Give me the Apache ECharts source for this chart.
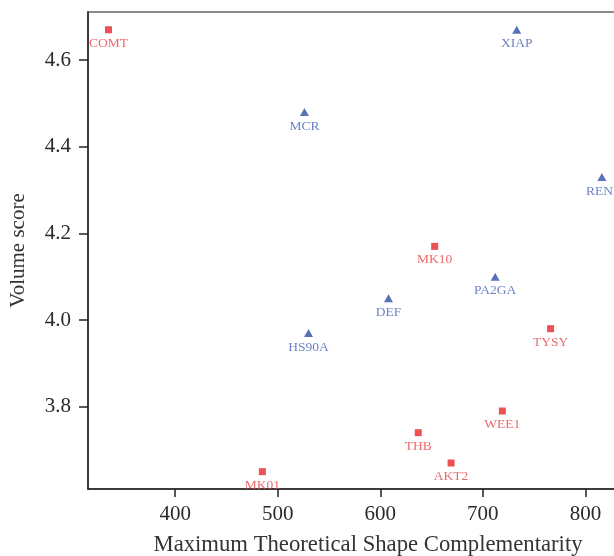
<!DOCTYPE html>
<html><head><meta charset="utf-8">
<script src="https://cdn.jsdelivr.net/npm/echarts@6/dist/echarts.min.js"></script>
<style>html,body{margin:0;padding:0;background:#fff}#c{width:614px;height:556px}</style>
</head><body><div id="c"></div>
<script>
const redNames = ['COMT','MK10','TYSY','WEE1','THB','AKT2','MK01'];
const redX = [335, 653, 766, 719, 637, 669, 485];
const redY = [4.67, 4.17, 3.98, 3.79, 3.74, 3.67, 3.65];
const blueNames = ['XIAP','MCR','RENI','PA2GA','DEF','HS90A'];
const blueX = [733, 526, 816, 712, 608, 530];
const blueY = [4.67, 4.48, 4.33, 4.10, 4.05, 3.97];
const xTicks = [400, 500, 600, 700, 800];
const yTicks = [3.8, 4.0, 4.2, 4.4, 4.6];

const font = 'Liberation Serif';
const chart = echarts.init(document.getElementById('c'), null, {renderer: 'canvas'});
function pts(xs, ys, ns){ return xs.map((x,i)=>({value:[x, ys[i]], name: ns[i]})); }
chart.setOption({
  animation: false,
  backgroundColor: '#fff',
  grid: {left: 88, top: 12, bottom: 67, right: -34, outerBoundsMode: 'none', containLabel: false,
    show: true, borderColor: '#666', borderWidth: 1.5},
  xAxis: {
    type: 'value', min: 315, max: 861,
    name: 'Maximum Theoretical Shape Complementarity', nameLocation: 'middle', nameGap: 45,
    nameTextStyle: {fontFamily: font, fontSize: 22.7, color: '#333'},
    axisLine: {show: true, lineStyle: {color: '#222', width: 1.5}},
    axisTick: {show: true, length: 8, customValues: xTicks, lineStyle: {color: '#222', width: 1.5}},
    axisLabel: {customValues: xTicks, fontFamily: font, fontSize: 21, color: '#2a2a2a', margin: 15},
    splitLine: {show: false}
  },
  yAxis: {
    type: 'value', min: 3.61, max: 4.711,
    name: 'Volume score', nameLocation: 'middle', nameGap: 59,
    nameTextStyle: {fontFamily: font, fontSize: 21, color: '#333'},
    axisLine: {show: true, lineStyle: {color: '#222', width: 1.5}},
    axisTick: {show: true, length: 9, customValues: yTicks, lineStyle: {color: '#222', width: 1.5}},
    axisLabel: {customValues: yTicks, fontFamily: font, fontSize: 21, color: '#2a2a2a', margin: 17,
      formatter: v => v.toFixed(1)},
    splitLine: {show: false}
  },
  series: [
    {type: 'scatter', data: pts(redX, redY, redNames), symbol: 'rect', symbolSize: 7,
      itemStyle: {color: '#E8262A'},
      label: {show: true, position: 'bottom', distance: 3, formatter: p => p.name,
        fontFamily: font, fontSize: 13.5, color: '#E84343'}},
    {type: 'scatter', data: pts(blueX, blueY, blueNames), symbol: 'triangle', symbolSize: [9, 8],
      itemStyle: {color: '#2E4DA6'},
      label: {show: true, position: 'bottom', distance: 3, formatter: p => p.name,
        fontFamily: font, fontSize: 13.5, color: '#4863B4'}}
  ]
});
</script></body></html>
